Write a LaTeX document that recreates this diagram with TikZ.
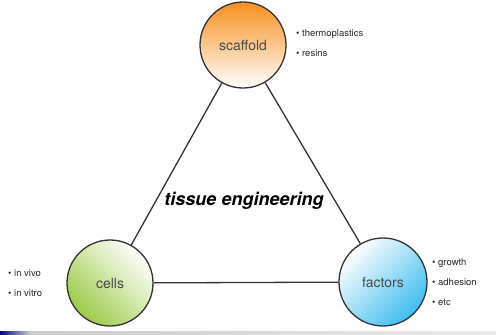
\documentclass[tikz,border=0pt]{standalone}
\usepackage{fontspec}
\setmainfont{TeX Gyre Heros}
\usepackage{tikz}
\usetikzlibrary{shapes.geometric}
\definecolor{ringgrey}{HTML}{333333}
\definecolor{labelgrey}{HTML}{4A4A4A}
\definecolor{scafforange}{HTML}{F7901E}
\definecolor{cellgreen}{HTML}{9CCB45}
\definecolor{factorblue}{HTML}{3DBDEF}
\tikzstyle{hub} = [circle, minimum size=86pt, inner sep=0pt, draw=ringgrey, line width=1.3pt, text=labelgrey, font=\fontsize{14}{16}\selectfont]
\tikzstyle{notes} = [align=left, inner sep=0pt, text=black!85, font=\fontsize{9.5}{20}\selectfont]
\tikzstyle{link} = [draw=ringgrey, line width=1.3pt]

\begin{document}
\begin{tikzpicture}[x=1pt, y=-1pt]
					\useasboundingbox (0,0) rectangle (496,335);
					\fill[left color=blue!50!black, right color=black!20] (0,331) rectangle (30,335);
					\fill[left color=black!20, right color=black!8] (30,331) rectangle (496,335);
					%----------------------------------------------------%
					\node(scaffold) [hub, top color=scafforange, bottom color=white] at (243,45) {scaffold};
					\node(cells) [hub, top color=white, bottom color=cellgreen, shading angle=-45] at (110,283) {cells};
					\node(factors) [hub, top color=white, bottom color=factorblue, shading angle=45, minimum size=88pt] at (383,282) {factors};
					
					\draw[link] (scaffold) -- (cells);
					\draw[link] (scaffold) -- (factors);
					\draw[link] (cells) -- (factors);
					%----------------------------------------------------%
					\node(title) [font=\fontsize{18}{20}\selectfont\bfseries\itshape] at (244,201) {tissue engineering};
					
					\node(scaffoldnotes) [notes, anchor=west] at (296,43) {\textbullet\ thermoplastics\\ \textbullet\ resins};
					\node(cellnotes) [notes, anchor=west] at (8,283) {\textbullet\ in vivo\\ \textbullet\ in vitro};
					\node(factornotes) [notes, anchor=west] at (432,282) {\textbullet\ growth\\ \textbullet\ adhesion\\ \textbullet\ etc};
				\end{tikzpicture}
\end{document}
